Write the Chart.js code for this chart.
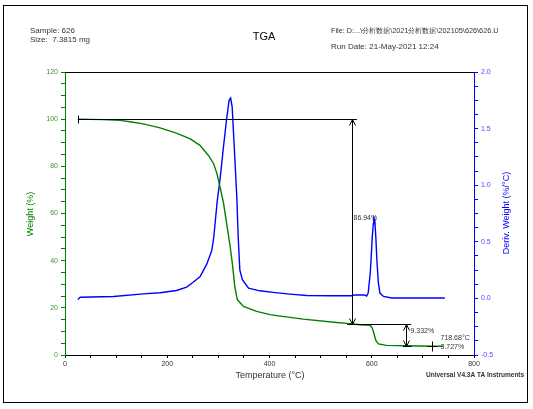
<!DOCTYPE html>
<html>
<head>
<meta charset="utf-8">
<script src="https://cdn.jsdelivr.net/npm/chart.js@4"></script>
<style>
  html, body { margin:0; padding:0; background:#fff; }
  canvas { display:block; }
</style>
</head>
<body>
<canvas id="tga" width="533" height="409"></canvas>
<script>
// Weight curve (°C, %)
const weightT = [25, 75, 108, 127, 153, 186, 218, 245, 264, 281, 291, 297, 303, 310, 316, 323, 328, 332, 337, 349, 375, 401, 414, 466, 531, 557, 577, 597, 601, 604, 608, 613, 629, 668, 719, 740];
const weightW = [100, 99.8, 99.5, 98.9, 98.0, 96.3, 94.1, 91.6, 88.9, 84.5, 81.0, 77.0, 71.5, 64.5, 56.0, 46.0, 37.6, 29.1, 23.5, 20.6, 18.5, 17.1, 16.7, 15.2, 13.8, 13.3, 12.8, 12.6, 11.4, 9.3, 6.2, 4.7, 4.1, 3.9, 3.73, 3.7];

// Derivative curve (°C, %/°C)
const derivT = [25, 30, 95, 153, 186, 218, 238, 250, 264, 277, 287, 291, 295, 298, 303, 310, 316, 321, 324, 327, 331, 336, 339, 342, 347, 359, 381, 407, 440, 473, 518, 562, 565, 586, 590, 593, 595, 597, 599, 601, 603, 604, 606, 608, 610, 613, 616, 623, 639, 743];
const derivD = [-0.01, 0.01, 0.017, 0.04, 0.05, 0.07, 0.1, 0.14, 0.19, 0.3, 0.42, 0.54, 0.73, 0.87, 1.04, 1.34, 1.58, 1.75, 1.77, 1.69, 1.34, 0.9, 0.52, 0.25, 0.165, 0.09, 0.067, 0.053, 0.038, 0.025, 0.023, 0.023, 0.03, 0.03, 0.02, 0.047, 0.135, 0.22, 0.37, 0.54, 0.66, 0.71, 0.69, 0.54, 0.34, 0.135, 0.047, 0.017, 0.003, 0.003];

// Step analysis annotations
const step1 = { lineFrom: 25, lineTo: 571, at: 561, top: 100, bottom: 13.06, label: '86.94%', labelW: 58 };
const step2 = { lineFrom: 552, lineTo: 677, at: 667, top: 13.06, bottom: 3.727, capFrom: 661, capTo: 678, label: '9.332%', labelW: 10.3 };
const residue = { t: 718.68, w: 3.727, labels: ['718.68°C', '3.727%'] };

const headerLeft = ['Sample: 626', 'Size:  7.3815 mg'];
const headerRight = ['File: D:...\\分析数据\\2021分析数据\\202105\\626\\626.U', 'Run Date: 21-May-2021 12:24'];

const FONT = '"Liberation Sans", Arial, sans-serif';
const toPts = (xs, ys) => xs.map((x, i) => ({ x, y: ys[i] }));

function arrowHead(ctx, x, y, dir) {
  // dir: -1 points up, 1 points down
  ctx.beginPath();
  ctx.moveTo(x - 3, y - dir * 6);
  ctx.lineTo(x, y);
  ctx.lineTo(x + 3, y - dir * 6);
  ctx.stroke();
}

const decor = {
  id: 'decor',
  beforeDraw(chart) {
    const { ctx } = chart;
    ctx.save();
    ctx.fillStyle = '#fff';
    ctx.fillRect(0, 0, chart.width, chart.height);
    ctx.restore();
  },
  afterDraw(chart) {
    const { ctx, chartArea: a, scales: { x, y } } = chart;
    ctx.save();
    // outer frame
    ctx.strokeStyle = '#000'; ctx.lineWidth = 1;
    ctx.strokeRect(3.5, 5.5, 524, 397);
    // plot top line
    ctx.beginPath(); ctx.moveTo(a.left, a.top + 0.5); ctx.lineTo(a.right, a.top + 0.5); ctx.stroke();

    // header texts
    ctx.fillStyle = '#333';
    ctx.textBaseline = 'middle';
    ctx.font = `8px ${FONT}`;
    ctx.textAlign = 'left';
    ctx.fillText(headerLeft[0], 30, 31);
    ctx.fillText(headerLeft[1], 30, 40);
    ctx.fillText(headerRight[1], 331, 47);
    ctx.font = `7.3px ${FONT}`;
    ctx.fillText(headerRight[0], 331, 31);
    ctx.fillStyle = '#000';
    ctx.font = `11px ${FONT}`;
    ctx.textAlign = 'center';
    ctx.fillText('TGA', 264, 37);

    // axis titles
    ctx.font = `9px ${FONT}`;
    ctx.fillStyle = '#333';
    ctx.fillText('Temperature (°C)', 270, 376);
    ctx.font = `bold 6.5px ${FONT}`;
    ctx.textAlign = 'left';
    ctx.fillText('Universal V4.3A TA Instruments', 426, 375);
    ctx.font = `9px ${FONT}`;
    ctx.textAlign = 'center';
    ctx.save(); ctx.translate(31, 214); ctx.rotate(-Math.PI / 2);
    ctx.fillStyle = '#008000'; ctx.fillText('Weight (%)', 0, 0); ctx.restore();
    ctx.save(); ctx.translate(507, 213); ctx.rotate(-Math.PI / 2);
    ctx.fillStyle = '#0000ff'; ctx.fillText('Deriv. Weight (%/°C)', 0, 0); ctx.restore();

    // step 1
    ctx.strokeStyle = '#000'; ctx.lineWidth = 1;
    const y1t = Math.round(y.getPixelForValue(step1.top)) + 0.5;
    const y1b = Math.round(y.getPixelForValue(step1.bottom)) + 0.5;
    const x1 = Math.round(x.getPixelForValue(step1.at)) + 0.5;
    const xs = Math.round(x.getPixelForValue(step1.lineFrom)) + 0.5;
    ctx.beginPath();
    ctx.moveTo(xs, y1t); ctx.lineTo(x.getPixelForValue(step1.lineTo), y1t);
    ctx.moveTo(xs, y1t - 4); ctx.lineTo(xs, y1t + 4);
    ctx.moveTo(x1, y1t); ctx.lineTo(x1, y1b);
    ctx.stroke();
    arrowHead(ctx, x1, y1t, -1);
    arrowHead(ctx, x1, y1b, 1);

    // step 2
    const y2t = Math.round(y.getPixelForValue(step2.top)) + 0.5;
    const y2b = Math.round(y.getPixelForValue(step2.bottom)) + 0.5;
    const x2 = Math.round(x.getPixelForValue(step2.at)) + 0.5;
    ctx.beginPath();
    ctx.moveTo(x.getPixelForValue(step2.lineFrom), y2t); ctx.lineTo(x.getPixelForValue(step2.lineTo), y2t);
    ctx.moveTo(x.getPixelForValue(step2.capFrom), y2b); ctx.lineTo(x.getPixelForValue(step2.capTo), y2b);
    ctx.moveTo(x2, y2t); ctx.lineTo(x2, y2b);
    ctx.stroke();
    arrowHead(ctx, x2, y2t, -1);
    arrowHead(ctx, x2, y2b, 1);

    // residue marker
    const xr = Math.round(x.getPixelForValue(residue.t)) + 0.5;
    const yr = Math.round(y.getPixelForValue(residue.w)) + 0.5;
    ctx.beginPath();
    ctx.moveTo(xr, yr - 5); ctx.lineTo(xr, yr + 5);
    ctx.moveTo(xr - 5, yr); ctx.lineTo(xr + 5, yr);
    ctx.stroke();

    // labels
    ctx.font = `7px ${FONT}`;
    ctx.textAlign = 'left';
    ctx.fillStyle = '#333';
    ctx.fillText(step1.label, x1 + 1, y.getPixelForValue(step1.labelW));
    ctx.fillText(step2.label, x2 + 4, y.getPixelForValue(step2.labelW));
    ctx.fillText(residue.labels[0], xr + 8, yr - 8);
    ctx.fillText(residue.labels[1], xr + 8, yr + 1);
    ctx.restore();
  }
};

new Chart(document.getElementById('tga'), {
  type: 'line',
  data: {
    datasets: [
      { label: 'Weight', data: toPts(weightT, weightW), yAxisID: 'y', borderColor: '#008000', borderWidth: 1.4, pointRadius: 0, tension: 0, fill: false },
      { label: 'Deriv. Weight', data: toPts(derivT, derivD), yAxisID: 'y1', borderColor: '#0000ff', borderWidth: 1.4, pointRadius: 0, tension: 0, fill: false }
    ]
  },
  options: {
    responsive: false,
    devicePixelRatio: 1,
    animation: false,
    events: [],
    layout: { padding: { left: 0, right: 0, top: 72, bottom: 0 } },
    plugins: { legend: { display: false }, tooltip: { enabled: false } },
    scales: {
      x: {
        type: 'linear', position: 'bottom', min: 0, max: 800,
        afterFit: s => { s.height = 54; },
        border: { color: '#000', width: 1 },
        grid: { drawOnChartArea: false, drawTicks: true, tickLength: 3, color: '#000' },
        ticks: { stepSize: 50, autoSkip: false, maxRotation: 0, padding: 2, color: '#333', font: { size: 7, family: FONT },
                 callback: v => (v % 200 === 0 ? v : '') }
      },
      y: {
        type: 'linear', position: 'left', min: 0, max: 120,
        afterFit: s => { s.width = 65; },
        border: { color: '#008000', width: 1 },
        grid: { drawOnChartArea: false, drawTicks: true, tickLength: 4, color: '#008000' },
        ticks: { stepSize: 5, autoSkip: false, padding: 3, color: '#3a9a2a', font: { size: 7, family: FONT },
                 callback: v => (v % 20 === 0 ? v : '') }
      },
      y1: {
        type: 'linear', position: 'right', min: -0.5, max: 2.0,
        afterFit: s => { s.width = 59; },
        border: { color: '#0000ff', width: 1 },
        grid: { drawOnChartArea: false, drawTicks: true, tickLength: 4, color: '#0000ff' },
        ticks: { stepSize: 0.125, autoSkip: false, padding: 3, color: '#4a4aff', font: { size: 7, family: FONT },
                 callback: v => (Math.abs(v * 2 - Math.round(v * 2)) < 1e-9 ? v.toFixed(1) : '') }
      }
    }
  },
  plugins: [decor]
});
</script>
</body>
</html>
